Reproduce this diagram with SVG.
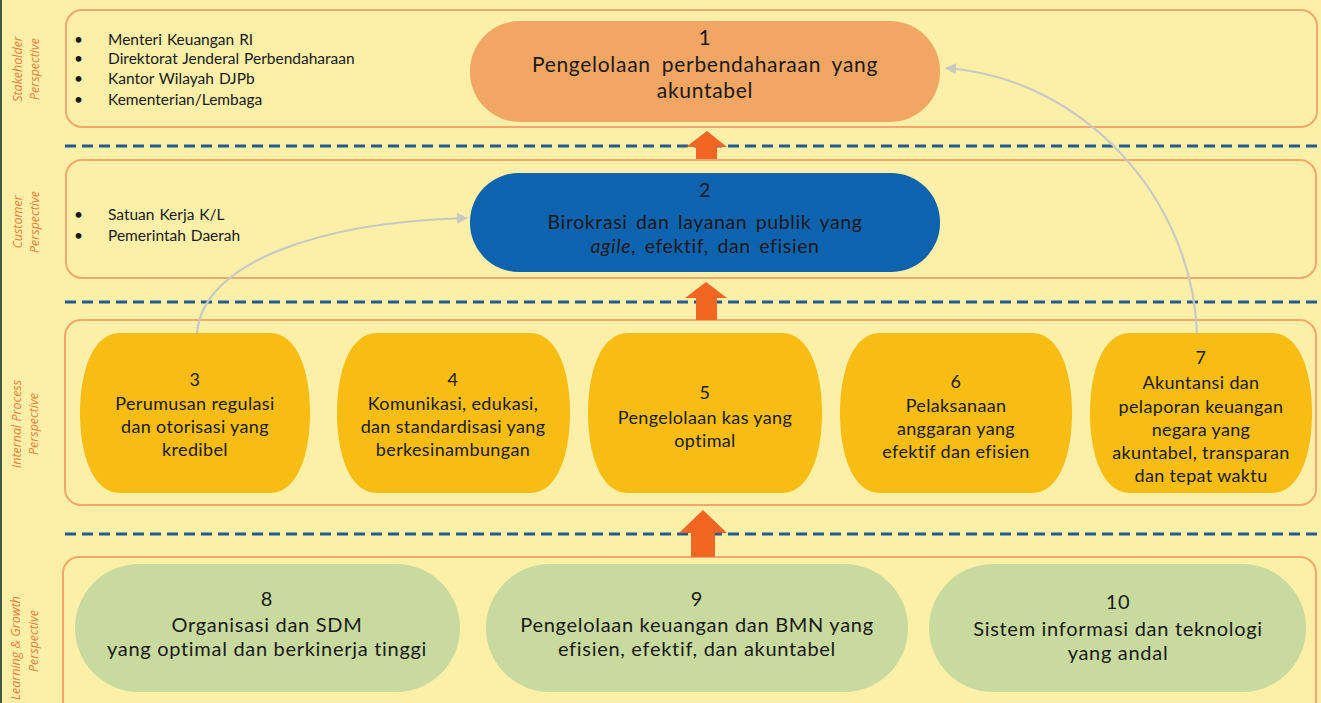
<svg xmlns="http://www.w3.org/2000/svg" width="1321" height="703" viewBox="0 0 1321 703">
<defs>
<style>
.frame{fill:none;stroke:#f2a86a;stroke-width:2}
.dash{stroke:#1f5c92;stroke-width:3;stroke-dasharray:11 6;fill:none}
.up{fill:#f26522}
.side{font-family:"Open Sans",sans-serif;font-style:italic;font-size:12.5px;fill:#e8803a;text-anchor:middle}
.bul{font-family:Lato,"Noto Sans",sans-serif;font-size:15.5px;fill:#1a1a1a;word-spacing:1px}
.t{font-family:Lato,"Noto Sans",sans-serif;fill:#1a1a1a;text-anchor:middle}
.t1{font-size:21px;letter-spacing:0.7px;word-spacing:5px}
.t2{font-size:19.5px;letter-spacing:0.6px;word-spacing:3px}
.t3{font-size:18px;letter-spacing:0.35px}
.t4{font-size:20px;letter-spacing:0.7px}
.gold{fill:#f8bd12}
.green{fill:#c8da9e}
.conn{fill:none;stroke:#c9c9c4;stroke-width:2.2}
</style>
<marker id="ah" viewBox="0 0 10 10" refX="9" refY="5" markerWidth="5" markerHeight="5" orient="auto">
<path d="M0,0 L10,5 L0,10 z" fill="#c9c9c4"/>
</marker>
</defs>
<rect width="1321" height="703" fill="#fcefa8"/>
<rect x="0" y="0" width="2" height="703" fill="#3d5a4a"/>

<g id="frames">
<rect class="frame" x="66" y="10" width="1251" height="117" rx="16"/>
<rect class="frame" x="66" y="160" width="1250" height="118" rx="16"/>
<rect class="frame" x="65" y="320" width="1251" height="185" rx="16"/>
<rect class="frame" x="63" y="557" width="1253" height="170" rx="16"/>
</g>

<g id="dividers">
<line class="dash" x1="65" y1="146" x2="1321" y2="146"/>
<line class="dash" x1="65" y1="302" x2="1321" y2="302"/>
<line class="dash" x1="65" y1="534" x2="1321" y2="534"/>
</g>

<g id="side-labels">
<text class="side" transform="translate(22,69) rotate(-90)">Stakeholder</text>
<text class="side" transform="translate(39,69) rotate(-90)">Perspective</text>
<text class="side" transform="translate(22,222) rotate(-90)">Customer</text>
<text class="side" transform="translate(39,222) rotate(-90)">Perspective</text>
<text class="side" transform="translate(21,424) rotate(-90)">Internal Process</text>
<text class="side" transform="translate(38,424) rotate(-90)">Perspective</text>
<text class="side" transform="translate(20,648) rotate(-90)">Learning &amp; Growth</text>
<text class="side" transform="translate(38,641) rotate(-90)">Perspective</text>
</g>

<g id="stakeholders">
<text class="bul" x="74" y="45">•</text><text class="bul" x="108" y="45">Menteri Keuangan RI</text>
<text class="bul" x="74" y="64">•</text><text class="bul" x="108" y="64">Direktorat Jenderal Perbendaharaan</text>
<text class="bul" x="74" y="84">•</text><text class="bul" x="108" y="84">Kantor Wilayah DJPb</text>
<text class="bul" x="74" y="105">•</text><text class="bul" x="108" y="105">Kementerian/Lembaga</text>
</g>
<g id="customers">
<text class="bul" x="74" y="220">•</text><text class="bul" x="108" y="220">Satuan Kerja K/L</text>
<text class="bul" x="74" y="241">•</text><text class="bul" x="108" y="241">Pemerintah Daerah</text>
</g>

<g id="up-arrows">
<path class="up" d="M707,131 L727,147 L717,147 L717,159 L696,159 L696,147 L686,147 Z"/>
<path class="up" d="M706,282 L727,298 L717,298 L717,320 L696,320 L696,298 L685,298 Z"/>
<path class="up" d="M703,510 L727,533 L715,533 L715,557 L691,557 L691,533 L679,533 Z"/>
</g>

<g id="node1">
<rect x="470" y="21" width="470" height="101" rx="50" fill="#f2a664"/>
<text class="t t1" x="705" y="45">1</text>
<text class="t t1" x="705" y="72">Pengelolaan perbendaharaan yang</text>
<text class="t t1" x="705" y="98">akuntabel</text>
</g>

<g id="node2">
<rect x="470" y="173" width="470" height="99" rx="49" fill="#0d63ae"/>
<text class="t t2" x="705" y="197">2</text>
<text class="t t2" x="705" y="229">Birokrasi dan layanan publik yang</text>
<text class="t t2" x="705" y="253"><tspan font-style="italic">agile</tspan>, efektif, dan efisien</text>
</g>

<g id="node3">
<path class="gold" d="M120,333 L270,333 C298,333 310,373 310,413 C310,453 298,493 270,493 L120,493 C92,493 80,453 80,413 C80,373 92,333 120,333 Z"/>
<text class="t t3" x="195" y="386">3</text>
<text class="t t3" x="195" y="410">Perumusan regulasi</text>
<text class="t t3" x="195" y="433">dan otorisasi yang</text>
<text class="t t3" x="195" y="456">kredibel</text>
</g>

<g id="node4">
<path class="gold" d="M377,333 L530,333 C558,333 570,373 570,413 C570,453 558,493 530,493 L377,493 C349,493 337,453 337,413 C337,373 349,333 377,333 Z"/>
<text class="t t3" x="453" y="386">4</text>
<text class="t t3" x="453" y="410">Komunikasi, edukasi,</text>
<text class="t t3" x="453" y="433">dan standardisasi yang</text>
<text class="t t3" x="453" y="456">berkesinambungan</text>
</g>

<g id="node5">
<path class="gold" d="M628,333 L782,333 C810,333 822,373 822,413 C822,453 810,493 782,493 L628,493 C600,493 588,453 588,413 C588,373 600,333 628,333 Z"/>
<text class="t t3" x="705" y="399">5</text>
<text class="t t3" x="705" y="424">Pengelolaan kas yang</text>
<text class="t t3" x="705" y="447">optimal</text>
</g>

<g id="node6">
<path class="gold" d="M880,333 L1032,333 C1060,333 1072,373 1072,413 C1072,453 1060,493 1032,493 L880,493 C852,493 840,453 840,413 C840,373 852,333 880,333 Z"/>
<text class="t t3" x="956" y="388">6</text>
<text class="t t3" x="956" y="412">Pelaksanaan</text>
<text class="t t3" x="956" y="435">anggaran yang</text>
<text class="t t3" x="956" y="458">efektif dan efisien</text>
</g>

<g id="node7">
<path class="gold" d="M1130,333 L1272,333 C1300,333 1312,373 1312,413 C1312,453 1300,493 1272,493 L1130,493 C1102,493 1090,453 1090,413 C1090,373 1102,333 1130,333 Z"/>
<text class="t t3" x="1201" y="364">7</text>
<text class="t t3" x="1201" y="389">Akuntansi dan</text>
<text class="t t3" x="1201" y="413">pelaporan keuangan</text>
<text class="t t3" x="1201" y="436">negara yang</text>
<text class="t t3" x="1201" y="459">akuntabel, transparan</text>
<text class="t t3" x="1201" y="482">dan tepat waktu</text>
</g>

<g id="node8">
<rect class="green" x="75" y="564" width="385" height="128" rx="64"/>
<text class="t t4" x="267" y="606">8</text>
<text class="t t4" x="267" y="632">Organisasi dan SDM</text>
<text class="t t4" x="267" y="656">yang optimal dan berkinerja tinggi</text>
</g>

<g id="node9">
<rect class="green" x="486" y="564" width="422" height="128" rx="64"/>
<text class="t t4" x="697" y="606">9</text>
<text class="t t4" x="697" y="632">Pengelolaan keuangan dan BMN yang</text>
<text class="t t4" x="697" y="656">efisien, efektif, dan akuntabel</text>
</g>

<g id="node10">
<rect class="green" x="929" y="564" width="377" height="128" rx="64"/>
<text class="t t4" x="1118" y="609">10</text>
<text class="t t4" x="1118" y="636">Sistem informasi dan teknologi</text>
<text class="t t4" x="1118" y="660">yang andal</text>
</g>

<g id="connectors">
<path class="conn" d="M197,333 C203,262 320,222 467,218" marker-end="url(#ah)"/>
<path class="conn" d="M1197,333 C1192,200 1085,78 946,68" marker-end="url(#ah)"/>
</g>
</svg>
